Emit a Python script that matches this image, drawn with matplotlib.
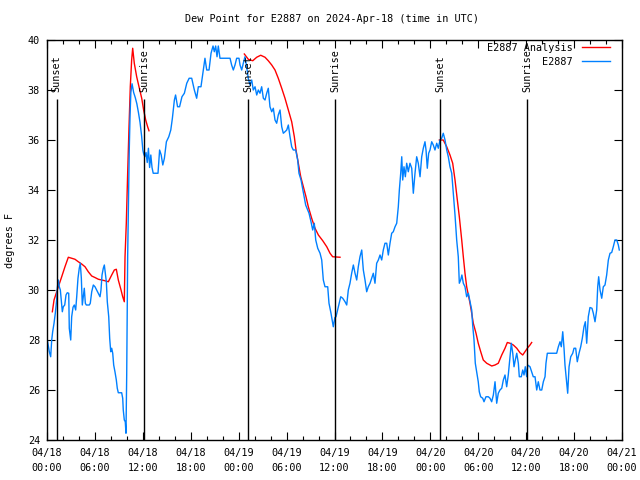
import numpy as np
import matplotlib
matplotlib.use("Agg")
import matplotlib.pyplot as plt
from matplotlib.ticker import MultipleLocator

plt.rcParams['font.family'] = ['DejaVu Sans Mono']
plt.rcParams['font.size'] = 7.3

# station observations (hours since 04/18 00:00 UTC, deg F)
obs_hours = [0.04, 0.29, 0.46, 0.59, 0.71, 0.88, 1.04, 1.21, 1.29, 1.42, 1.54, 1.67, 1.79, 1.92,
             2.04, 2.22, 2.38, 2.54, 2.72, 2.79, 2.97, 3.09, 3.26, 3.42, 3.59, 3.72, 3.88, 4.04,
             4.17, 4.3, 4.42, 4.55, 4.67, 4.8, 4.92, 5.3, 5.42, 5.6, 5.8, 6.01, 6.22, 6.42, 6.64,
             6.76, 6.89, 7.05, 7.18, 7.3, 7.43, 7.55, 7.73, 7.85, 7.98, 8.1, 8.23, 8.35, 8.51,
             8.68, 8.8, 8.93, 9.35, 9.48, 9.55, 9.68, 9.8, 9.89, 9.98, 10.1, 10.2, 10.3, 10.4,
             10.5, 10.65, 10.85, 11.05, 11.25, 11.45, 11.65, 11.85, 12.0, 12.1, 12.25, 12.4,
             12.55, 12.7, 12.85, 13.0, 13.15, 13.3, 13.9, 14.1, 14.3, 14.5, 14.7, 14.95, 15.25,
             15.5, 15.7, 15.95, 16.1, 16.35, 16.6, 16.9, 17.2, 17.5, 17.8, 18.12, 18.45, 18.74,
             18.95, 19.28, 19.57, 19.78, 20.0, 20.29, 20.54, 20.79, 20.95, 21.12, 21.29, 21.45,
             21.66, 22.92, 23.12, 23.33, 23.54, 23.75, 24.04, 24.17, 24.38, 24.58, 24.79, 25.0,
             25.2, 25.42, 25.63, 25.83, 26.05, 26.26, 26.46, 26.67, 26.88, 27.09, 27.3, 27.51,
             27.71, 27.92, 28.14, 28.34, 28.55, 28.76, 28.96, 29.18, 29.39, 29.59, 29.8, 30.02,
             30.22, 30.43, 30.64, 30.84, 31.14, 31.39, 31.55, 31.81, 31.97, 32.22, 32.39, 32.65,
             32.81, 33.06, 33.27, 33.47, 33.65, 33.9, 34.19, 34.4, 34.6, 34.81, 35.15, 35.31,
             35.56, 35.85, 36.05, 36.19, 36.48, 36.78, 37.03, 37.32, 37.53, 37.73, 37.94, 38.15,
             38.36, 38.57, 38.78, 38.98, 39.19, 39.41, 39.61, 39.82, 40.03, 40.23, 40.45, 40.66,
             40.86, 41.07, 41.28, 41.49, 41.7, 41.91, 42.11, 42.32, 42.54, 42.74, 42.95, 43.16,
             43.36, 43.58, 43.79, 43.99, 44.12, 44.29, 44.42, 44.54, 44.7, 44.87, 45.04, 45.24,
             45.45, 45.67, 45.87, 46.08, 46.29, 46.49, 46.71, 46.92, 47.12, 47.33, 47.46, 47.62,
             47.79, 47.96, 48.17, 48.37, 48.58, 48.8, 49.0, 49.21, 49.42, 49.62, 49.84, 50.05,
             50.25, 50.46, 50.68, 50.88, 51.09, 51.3, 51.5, 51.63, 51.8, 51.95, 52.13, 52.34,
             52.55, 52.76, 52.97, 53.18, 53.3, 53.47, 53.63, 53.8, 54.0, 54.13, 54.3, 54.56,
             54.72, 54.97, 55.26, 55.47, 55.68, 55.89, 56.1, 56.31, 56.51, 56.72, 56.94, 57.14,
             57.35, 57.56, 57.76, 57.98, 58.14, 58.32, 58.48, 58.64, 58.82, 59.02, 59.14, 59.39,
             59.57, 59.73, 59.89, 60.07, 60.19, 60.48, 60.69, 60.89, 61.11, 61.32, 61.52, 61.73,
             61.95, 62.15, 62.36, 62.48, 62.65, 63.82, 64.03, 64.24, 64.4, 64.58, 64.74, 64.86,
             65.08, 65.2, 65.37, 65.58, 65.83, 65.99, 66.2, 66.4, 66.62, 66.83, 67.03, 67.24,
             67.41, 67.58, 67.78, 67.99, 68.24, 68.41, 68.62, 68.83, 68.96, 69.08, 69.25, 69.46,
             69.66, 69.87, 70.08, 70.29, 70.5, 70.71, 70.91, 71.12, 71.34, 71.54, 71.66]
obs_dewpt = [28.0, 27.53, 27.33, 28.0, 28.33, 28.67, 29.07, 29.6, 30.07, 30.4, 30.13, 30.0, 29.6, 29.13,
             29.33, 29.4, 29.8, 29.89, 29.87, 28.47, 28.0, 28.93, 29.31, 29.4, 29.2, 29.73, 30.47, 30.87,
             31.07, 30.47, 29.4, 29.73, 30.07, 29.47, 29.4, 29.4, 29.47, 29.93, 30.2, 30.13, 30.0, 29.87, 29.73,
             30.0, 30.6, 30.87, 31.0, 30.67, 30.33, 29.53, 28.93, 28.07, 27.53, 27.67, 27.47, 27.0, 26.73,
             26.4, 26.07, 25.89, 25.89, 25.67, 25.2, 24.8, 24.73, 24.27, 26.6, 31.33, 33.5, 35.6, 37.0,
             37.9, 38.25, 37.9, 37.7, 37.45, 37.1, 36.7, 36.15, 35.6, 35.45, 35.33, 35.5,
             35.1, 35.67, 34.9, 35.4, 34.9, 34.67, 34.67, 35.6, 35.4, 35.0, 35.27, 35.93, 36.13,
             36.4, 36.87, 37.6, 37.8, 37.33, 37.33, 37.73, 37.87, 38.27, 38.47, 38.47, 38.0, 37.67,
             38.13, 38.13, 38.8, 39.27, 38.8, 38.8, 39.47, 39.76, 39.53, 39.76, 39.33, 39.76,
             39.27, 39.27, 39.0, 38.8, 39.0, 39.27, 39.27, 39.0, 38.8, 39.07, 39.33, 38.93,
             38.47, 38.2, 38.4, 38.0, 38.13, 37.8, 38.0, 37.87, 38.13, 37.67, 37.6, 37.87,
             38.07, 37.33, 37.13, 37.27, 36.8, 36.67, 37.0, 37.2, 36.53, 36.27, 36.33, 36.4,
             36.6, 36.13, 35.73, 35.6, 35.6, 35.2, 34.67, 34.4, 34.13, 33.73, 33.4, 33.2,
             33.07, 32.73, 32.4, 32.67, 32.0, 31.67, 31.47, 31.2, 30.4, 30.13, 30.13, 29.47,
             29.07, 28.53, 28.9, 28.93, 29.33, 29.73, 29.67, 29.53, 29.4, 30.0, 30.27, 30.67,
             31.0, 30.67, 30.4, 30.93, 31.33, 31.6, 30.8, 30.4, 29.93, 30.13, 30.27, 30.47,
             30.67, 30.27, 31.07, 31.2, 31.4, 31.2, 31.6, 31.87, 31.87, 31.4, 31.87, 32.27,
             32.33, 32.53, 32.67, 33.33, 34.0, 34.67, 35.33, 34.4, 34.93, 34.53, 35.07, 34.73,
             35.07, 34.87, 33.87, 34.67, 35.33, 35.07, 34.53, 35.33, 35.67, 35.93, 35.6, 34.87,
             35.47, 35.6, 35.93, 35.8, 35.6, 35.87, 35.67, 36.0, 36.07, 36.27, 36.0, 35.6,
             35.33, 34.93, 34.67, 33.87, 33.0, 32.0, 31.33, 30.27, 30.4, 30.6, 30.27, 30.13,
             29.73, 29.87, 29.53, 29.2, 28.6, 28.0, 27.07, 26.73, 26.33, 25.93, 25.73, 25.67,
             25.53, 25.73, 25.73, 25.67, 25.53, 25.8, 26.33, 25.47, 25.87, 26.0, 26.07, 26.4,
             26.6, 26.13, 26.6, 27.33, 27.87, 27.47, 26.93, 27.2, 27.47, 27.07, 26.53, 26.53,
             26.8, 26.6, 26.93, 26.53, 27.0, 26.93, 26.73, 26.53, 26.53, 26.0, 26.33, 26.0,
             26.0, 26.33, 26.53, 27.07, 27.47, 27.47, 27.73, 27.93, 27.73, 28.33, 27.67, 27.0,
             26.27, 25.87, 26.93, 27.33, 27.47, 27.67, 27.67, 27.13, 27.47, 27.73, 28.07, 28.53,
             28.73, 27.87, 28.93, 29.3, 29.27, 29.07, 28.73, 29.2, 30.13, 30.53, 30.0, 29.67,
             30.13, 30.2, 30.6, 31.2, 31.47, 31.5, 31.73, 32.0, 32.0, 31.8, 31.6]

# analysis, three separate runs
ana1_hours = [0.67, 0.88, 1.42, 1.84, 2.25, 2.67, 3.09, 3.5, 3.92, 4.34, 4.76, 5.17, 5.6, 6.0,
              6.43, 6.85, 7.26, 7.68, 8.1, 8.43, 8.68, 8.93, 9.27, 9.48, 9.68, 9.77, 9.93, 10.1,
              10.27, 10.43, 10.6, 10.73, 10.93, 11.23, 11.52, 11.86, 12.1, 12.36, 12.6, 12.77]
ana1_dewpt = [29.13, 29.6, 30.13, 30.53, 30.93, 31.31, 31.27, 31.23, 31.13, 31.04, 30.93, 30.73, 30.56, 30.5,
              30.43, 30.4, 30.37, 30.33, 30.6, 30.8, 30.83, 30.4, 30.0, 29.73, 29.53, 31.33, 32.67, 34.67,
              36.53, 38.13, 39.2, 39.67, 39.07, 38.53, 38.13, 37.67, 37.2, 36.8, 36.53, 36.37]
ana2_hours = [24.71, 25.2, 25.76, 26.26, 26.76, 27.3, 27.71, 28.14, 28.55, 28.96, 29.39, 29.8, 30.22,
              30.64, 30.97, 31.18, 31.47, 31.77, 32.1, 32.43, 32.72, 33.14, 33.56, 33.98, 34.53,
              35.03, 35.44, 35.77, 36.69]
ana2_dewpt = [39.44, 39.23, 39.17, 39.31, 39.39, 39.31, 39.17, 39.0, 38.8, 38.47, 38.07, 37.67, 37.2,
              36.73, 36.13, 35.6, 35.07, 34.53, 34.13, 33.73, 33.33, 32.87, 32.47, 32.2, 31.97,
              31.73, 31.47, 31.33, 31.31]
ana3_hours = [49.13, 49.62, 50.05, 50.46, 50.8, 51.09, 51.38, 51.63, 51.93, 52.13, 52.34, 52.55, 52.76,
              52.97, 53.18, 53.38, 53.72, 54.0, 54.31, 54.63, 55.06, 55.69, 56.1, 56.51, 56.94,
              57.35, 57.64, 57.98, 58.39, 58.82, 59.23, 59.57, 59.85, 60.19, 60.48, 60.69]
ana3_dewpt = [36.0, 36.0, 35.73, 35.4, 35.07, 34.4, 33.6, 32.93, 32.0, 31.33, 30.67, 30.13, 29.8,
              29.47, 29.07, 28.67, 28.27, 27.87, 27.53, 27.2, 27.07, 26.96, 27.0, 27.07, 27.4,
              27.67, 27.9, 27.87, 27.8, 27.67, 27.49, 27.4, 27.53, 27.69, 27.8, 27.9]

sunset_hours = [1.2, 25.2, 49.2]
sunrise_hours = [12.2, 36.1, 60.15]

tick_hours = [0, 6, 12, 18, 24, 30, 36, 42, 48, 54, 60, 66, 72]
tick_labels = ['04/18\n00:00', '04/18\n06:00', '04/18\n12:00', '04/18\n18:00',
               '04/19\n00:00', '04/19\n06:00', '04/19\n12:00', '04/19\n18:00',
               '04/20\n00:00', '04/20\n06:00', '04/20\n12:00', '04/20\n18:00',
               '04/21\n00:00']

fig = plt.figure(figsize=(6.4, 4.8), dpi=100)
ax = fig.add_axes([47/640, 40/480, 575/640, 400/480])

red = '#ff0000'
blue = '#0080ff'
ax.plot(ana1_hours, ana1_dewpt, color=red, lw=1.0, label='E2887 Analysis')
ax.plot(ana2_hours, ana2_dewpt, color=red, lw=1.0)
ax.plot(ana3_hours, ana3_dewpt, color=red, lw=1.0)
ax.plot(obs_hours, obs_dewpt, color=blue, lw=1.0, label='E2887')

# sunrise / sunset markers
for h in sunset_hours:
    ax.vlines(h, 24, 37.62, color='black', lw=1.0)
    ax.text(h, 37.92, 'Sunset', rotation=90, ha='center', va='bottom')
for h in sunrise_hours:
    ax.vlines(h, 24, 37.62, color='black', lw=1.0)
    ax.text(h, 37.92, 'Sunrise', rotation=90, ha='center', va='bottom')

ax.set_xlim(0, 72)
ax.set_ylim(24, 40)
ax.set_xticks(tick_hours)
ax.set_xticklabels(tick_labels, linespacing=1.6)
ax.xaxis.set_minor_locator(MultipleLocator(2))
ax.set_yticks(range(24, 41, 2))
ax.tick_params(which='both', direction='in', top=True, right=True, width=0.8)
ax.tick_params(which='major', length=5.5, pad=5)
ax.tick_params(which='minor', length=3)
ax.tick_params(axis='x', pad=6)
for s in ax.spines.values():
    s.set_linewidth(1.0)

fig.text(332/640, 1 - 19/480, 'Dew Point for E2887 on 2024-Apr-18 (time in UTC)',
         ha='center', va='center')
fig.text(10/640, 0.5, 'degrees F', rotation=90, ha='center', va='center')

ax.legend(loc='upper right', bbox_to_anchor=(1 - 12/575, 1 - 3/400), frameon=False,
          markerfirst=False, borderaxespad=0, borderpad=0, handlelength=2.8,
          handletextpad=0.9, labelspacing=0.35)

fig.savefig('out.png', dpi=100)
